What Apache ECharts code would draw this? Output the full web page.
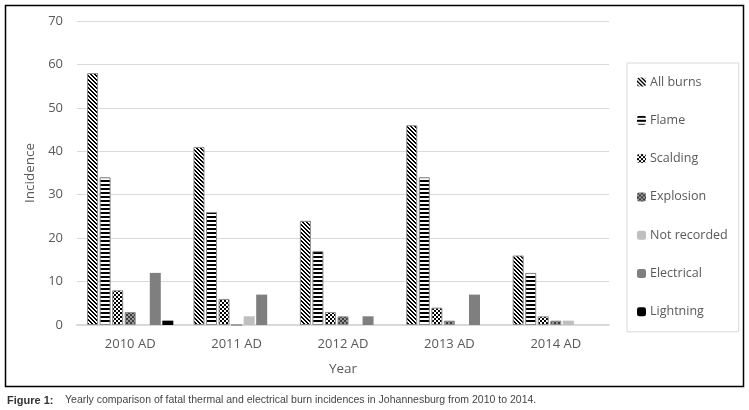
<!DOCTYPE html>
<html>
<head>
<meta charset="utf-8">
<script src="https://cdn.jsdelivr.net/npm/echarts@6/dist/echarts.min.js"></script>
<style>
html,body{margin:0;padding:0;background:#fff;}
#c{width:749px;height:410px;}
</style>
</head>
<body>
<div id="c"></div>
<script>
var categories = ['2010 AD', '2011 AD', '2012 AD', '2013 AD', '2014 AD'];
var seriesNames = ['All burns', 'Flame', 'Scalding', 'Explosion', 'Not recorded', 'Electrical', 'Lightning'];
var allBurns    = [58, 41, 24, 46, 16];
var flame       = [34, 26, 17, 34, 12];
var scalding    = [8, 6, 3, 4, 2];
var explosion   = [3, 0, 2, 1, 1];
var notRecorded = [0, 2, 0, 0, 1];
var electrical  = [12, 7, 2, 7, 0];
var lightning   = [1, 0, 0, 0, 0];
var yTicks = [0, 10, 20, 30, 40, 50, 60, 70];
var captionLabel = 'Figure 1:';
var captionText = 'Yearly comparison of fatal thermal and electrical burn incidences in Johannesburg from 2010 to 2014.';

function makePattern(size, draw) {
  var cv = document.createElement('canvas');
  cv.width = size; cv.height = size;
  var ctx = cv.getContext('2d');
  ctx.fillStyle = '#fff';
  ctx.fillRect(0, 0, size, size);
  draw(ctx, size);
  return { image: cv, repeat: 'repeat' };
}
var diagPat = makePattern(4, function (ctx, s) {
  ctx.fillStyle = '#000';
  for (var y = 0; y < s; y++) for (var x = 0; x < s; x++) {
    var d = ((x - y) % 4 + 4) % 4;
    if (d === 0 || d === 1) ctx.fillRect(x, y, 1, 1);
  }
});
var horizPat = makePattern(4, function (ctx, s) {
  ctx.fillStyle = '#000';
  ctx.fillRect(0, 0, s, 2);
});
var checkPat = makePattern(4, function (ctx, s) {
  ctx.fillStyle = '#000';
  ctx.fillRect(0, 0, 2, 2);
  ctx.fillRect(2, 2, 2, 2);
});
var explPat = makePattern(4, function (ctx, s) {
  ctx.fillStyle = '#9a9a9a';
  ctx.fillRect(0, 0, s, s);
  ctx.fillStyle = '#3c3c3c';
  ctx.fillRect(0, 0, 2, 2);
  ctx.fillRect(2, 2, 2, 2);
});

var dataSets = [allBurns, flame, scalding, explosion, notRecorded, electrical, lightning];
var styles = [
  { color: diagPat, borderColor: '#8c8c8c', borderWidth: 1 },
  { color: horizPat, borderColor: '#8c8c8c', borderWidth: 1 },
  { color: checkPat, borderColor: '#8c8c8c', borderWidth: 1 },
  { color: explPat, borderColor: '#8c8c8c', borderWidth: 1 },
  { color: '#bfbfbf' },
  { color: '#7f7f7f' },
  { color: '#000000' }
];

var series = seriesNames.map(function (n, i) {
  return {
    name: n,
    type: 'bar',
    data: dataSets[i],
    barWidth: 11,
    barGap: '14%',
    itemStyle: styles[i],
    emphasis: { disabled: true }
  };
});

var chart = echarts.init(document.getElementById('c'), null, { renderer: 'canvas' });
var font = '"Open Sans", sans-serif';
chart.setOption({
  animation: false,
  backgroundColor: '#fff',
  grid: { left: 77, right: 140, top: 21, bottom: 85 },
  xAxis: {
    type: 'category',
    data: categories,
    name: 'Year',
    nameLocation: 'middle',
    nameGap: 37,
    nameTextStyle: { color: '#595959', fontSize: 13.5, fontFamily: font },
    axisLine: { lineStyle: { color: '#d9d9d9', width: 2 } },
    axisTick: { show: false },
    axisLabel: { color: '#595959', fontSize: 13, fontFamily: font, margin: 13 }
  },
  yAxis: {
    type: 'value',
    min: yTicks[0],
    max: yTicks[yTicks.length - 1],
    interval: 10,
    name: 'Incidence',
    nameLocation: 'middle',
    nameGap: 30,
    nameTextStyle: { color: '#595959', fontSize: 13.5, fontFamily: font },
    axisLine: { show: false },
    axisTick: { show: false },
    axisLabel: { color: '#595959', fontSize: 13, fontFamily: font, margin: 14 },
    splitLine: { lineStyle: { color: '#d9d9d9', width: 1 } }
  },
  legend: {
    orient: 'vertical',
    left: 627,
    top: 63,
    padding: [11, 11, 12, 10],
    itemWidth: 9,
    itemHeight: 9,
    itemGap: 22.3,
    itemStyle: { borderWidth: 0 },
    borderColor: '#d9d9d9',
    borderWidth: 1,
    textStyle: { color: '#595959', fontSize: 12.5, fontFamily: font, lineHeight: 16, padding: [0, 0, 0, -1] },
    selectedMode: false,
    data: seriesNames
  },
  graphic: [
    { type: 'rect', shape: { x: 5.5, y: 5.5, width: 738, height: 381 },
      style: { fill: 'none', stroke: '#000', lineWidth: 1.5 }, silent: true },
    { type: 'text', left: 7, top: 395,
      style: { text: captionLabel, fill: '#333', font: 'bold 11px "Liberation Sans Narrow", "Liberation Sans", sans-serif' } },
    { type: 'text', left: 65, top: 395,
      style: { text: captionText, fill: '#444', font: '10.5px "Liberation Sans Narrow", "Liberation Sans", sans-serif' } }
  ],
  series: series
});
</script>
</body>
</html>
